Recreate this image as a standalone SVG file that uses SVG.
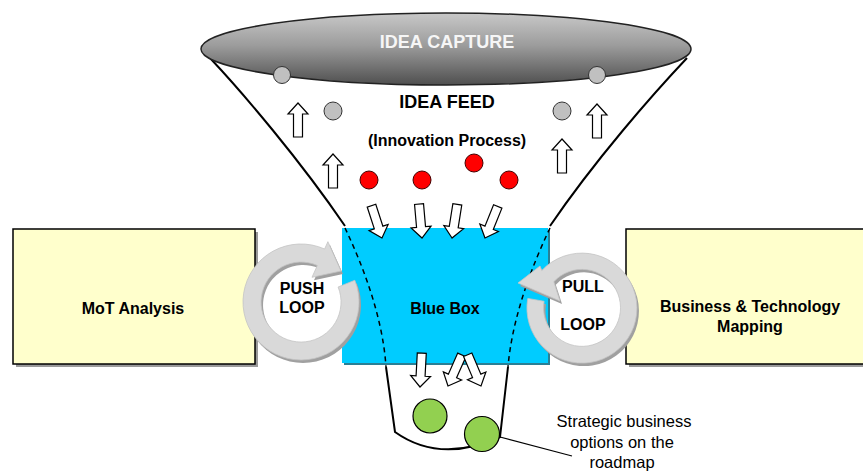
<svg xmlns="http://www.w3.org/2000/svg" width="863" height="472" viewBox="0 0 863 472">
<style>
.t{font-family:"Liberation Sans",Arial,sans-serif;font-weight:bold;font-size:16px;fill:#000;text-anchor:middle}
.box{fill:#FFFFCC;stroke:#000;stroke-width:1.5}
.shadow{fill:#9a9a9a}
.fun{fill:none;stroke:#000;stroke-width:2}
.dash{fill:none;stroke:#000;stroke-width:1.5;stroke-dasharray:5 4}
.arr{fill:#fff;stroke:#000;stroke-width:1.2}
.red{fill:#FF0000;stroke:#400;stroke-width:1}
.gray{fill:#C0C0C0;stroke:#333;stroke-width:1}
.green{fill:#92D050;stroke:#000;stroke-width:1.2}
.ring{fill:#D9D9D9;stroke:#c4c4c4;stroke-width:0.8}
.ringsh{fill:#a0a0a0}
.note{font-family:"Liberation Sans",Arial,sans-serif;font-size:16.5px;fill:#000;text-anchor:middle}
</style>
<defs>
<linearGradient id="eg" x1="0" y1="0" x2="0" y2="1">
<stop offset="0" stop-color="#c8c8c8"/>
<stop offset="0.45" stop-color="#9c9c9c"/>
<stop offset="1" stop-color="#4f4f4f"/>
</linearGradient>
<path id="ua" d="M0,0 L10,11 L4.5,11 L4.5,34 L-4.5,34 L-4.5,11 L-10,11 Z"/>
</defs>
<rect width="863" height="472" fill="#fff"/>

<g id="connectors">
<path class="fun" d="M210,58 C242,92 300,160 345,226"/>
<path class="fun" d="M687,58 C653,94 595,160 550,226"/>
</g>

<g id="idea-capture">
<ellipse cx="446" cy="49" rx="245" ry="36" fill="url(#eg)" stroke="#222" stroke-width="1.5"/>
<text class="t" x="447" y="48" style="font-size:18px;fill:#f6f6f6">IDEA CAPTURE</text>
<circle class="gray" cx="282" cy="75" r="8.5"/>
<circle class="gray" cx="597" cy="75" r="8.5"/>
</g>

<g id="idea-feed">
<text class="t" x="447" y="108" style="font-size:18px">IDEA FEED</text>
<text class="t" x="447" y="146">(Innovation Process)</text>
<circle class="gray" cx="333" cy="111" r="9"/>
<circle class="gray" cx="562" cy="111" r="9"/>
<circle class="red" cx="369" cy="180" r="9"/>
<circle class="red" cx="422" cy="180" r="9"/>
<circle class="red" cx="474" cy="163" r="9"/>
<circle class="red" cx="509" cy="180" r="9"/>
<use href="#ua" class="arr" transform="translate(298,103)"/>
<use href="#ua" class="arr" transform="translate(333,154)"/>
<use href="#ua" class="arr" transform="translate(597,104)"/>
<use href="#ua" class="arr" transform="translate(562,139)"/>
</g>

<g id="mot-analysis">
<rect class="shadow" x="16" y="232" width="242" height="135"/>
<rect class="box" x="13" y="229" width="242" height="135"/>
<text class="t" x="133" y="314">MoT Analysis</text>
</g>

<g id="business-technology-mapping">
<rect class="shadow" x="629" y="232" width="260" height="135"/>
<rect class="box" x="626" y="229" width="260" height="135"/>
<text class="t" x="750" y="312">Business &amp; Technology</text>
<text class="t" x="750" y="332">Mapping</text>
</g>

<g id="blue-box">
<rect x="344" y="230" width="206" height="135" fill="#2a7f95"/>
<rect x="342" y="228" width="206" height="135" fill="#00CCFF"/>
<path class="dash" d="M345,228 C365,270 383,320 386,367"/>
<path class="dash" d="M550,228 C530,270 512,320 508,367"/>
<text class="t" x="445" y="314">Blue Box</text>
<use href="#ua" class="arr" transform="translate(382,238) rotate(162)"/>
<use href="#ua" class="arr" transform="translate(422,238) rotate(175)"/>
<use href="#ua" class="arr" transform="translate(452,238) rotate(-171)"/>
<use href="#ua" class="arr" transform="translate(485,238) rotate(-158)"/>
</g>

<g id="push-loop">
<path class="ringsh" transform="translate(2,3)" d="M354.8,280.3 A58,58 0 1 1 324.6,249 L327.9,241.7 L341,271 L312,277.3 L317.3,265.5 A40,40 0 1 0 338.1,287 Z"/>
<path class="ring" d="M354.8,280.3 A58,58 0 1 1 324.6,249 L327.9,241.7 L341,271 L312,277.3 L317.3,265.5 A40,40 0 1 0 338.1,287 Z"/>
<text class="t" x="302" y="294">PUSH</text>
<text class="t" x="302" y="313">LOOP</text>
</g>

<g id="pull-loop">
<path class="ringsh" transform="translate(2,3)" d="M527.8,298.4 A55,55 0 1 0 541.8,270.5 L540,266 L518,283 L560,301 L553.8,281.7 A38.5,38.5 0 1 1 544.1,301.3 Z"/>
<path class="ring" d="M527.8,298.4 A55,55 0 1 0 541.8,270.5 L540,266 L518,283 L560,301 L553.8,281.7 A38.5,38.5 0 1 1 544.1,301.3 Z"/>
<text class="t" x="583" y="292">PULL</text>
<text class="t" x="583" y="330">LOOP</text>
</g>

<g id="roadmap-cup">
<path class="fun" d="M386,367 L395,432 Q440,464 500,437 L508,367"/>
<use href="#ua" class="arr" transform="translate(420,387) rotate(-177)"/>
<use href="#ua" class="arr" transform="translate(448,386) rotate(-156)"/>
<use href="#ua" class="arr" transform="translate(481,386) rotate(157)"/>
<circle class="green" cx="430" cy="416" r="17"/>
<circle class="green" cx="482" cy="434" r="17.5"/>
</g>

<g id="strategic-options">
<line x1="500" y1="437" x2="572" y2="456" stroke="#000" stroke-width="1.2"/>
<text class="note" x="624" y="427">Strategic business</text>
<text class="note" x="622" y="448">options on the</text>
<text class="note" x="622" y="468">roadmap</text>
</g>
</svg>
